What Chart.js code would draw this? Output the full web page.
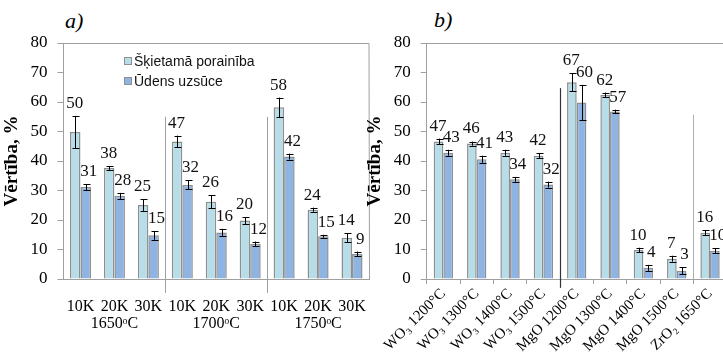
<!DOCTYPE html>
<html>
<head>
<meta charset="utf-8">
<script src="https://cdn.jsdelivr.net/npm/chart.js@4.4.0/dist/chart.umd.min.js"></script>
<style>
  html, body { margin: 0; padding: 0; background: #fff; overflow: hidden; }
  body { width: 723px; height: 361px; position: relative; }
  .panel { position: absolute; top: 0; }
  .tag { position: absolute; font: italic 22px "Liberation Serif", "Times New Roman", serif; color: #000; }
</style>
</head>
<body>
<div class="tag" style="left:65px; top:8px;">a)</div>
<div class="tag" style="left:434px; top:7px;">b)</div>
<div class="panel" style="left:0px;"><canvas id="chartA" width="380" height="361"></canvas></div>
<div class="panel" style="left:360px;"><canvas id="chartB" width="370" height="361"></canvas></div>
<script>
// panel a)
const catsA = ['10K', '20K', '30K', '10K', '20K', '30K', '10K', '20K', '30K'];
const groupsA = ['', '1650ᵒC', '', '', '1700ᵒC', '', '', '1750ᵒC', ''];
const porA = [49.8, 37.6, 25.1, 46.6, 26.2, 19.8, 58.2, 23.5, 14.0];
const porErrA = [5.5, 0.6, 2.0, 2.0, 2.3, 1.2, 3.3, 0.7, 1.5];
const absA = [31.2, 28.2, 14.8, 31.9, 15.8, 11.9, 41.5, 14.5, 8.5];
const absErrA = [1.0, 1.0, 1.5, 1.5, 1.2, 0.8, 1.0, 0.5, 0.8];

// panel b)
const catsB = ['WO₃ 1200°C', 'WO₃ 1300°C', 'WO₃ 1400°C', 'WO₃ 1500°C', 'MgO 1200°C',
               'MgO 1300°C', 'MgO 1400°C', 'MgO 1500°C', 'ZrO₂ 1650°C'];
const porB = [46.6, 45.9, 42.8, 41.8, 66.7, 62.4, 9.8, 6.9, 15.7];
const porErrB = [1.0, 0.7, 1.0, 0.8, 3.0, 0.8, 0.8, 1.0, 0.8];
const absB = [42.8, 40.6, 33.8, 32.0, 59.8, 56.8, 3.8, 2.8, 9.6];
const absErrB = [1.0, 1.2, 0.8, 1.0, 6.0, 0.6, 1.0, 1.2, 0.8];

const yTicks = [0, 10, 20, 30, 40, 50, 60, 70, 80];
const seriesNames = ['Šķietamā porainība', 'Ūdens uzsūce'];

const SERIF = '"Liberation Serif", "Times New Roman", serif';
const lightFill = '#b7dee8';
const darkFill = '#8db4e2';
const barEdge = '#8f8f8f';
const axisGrey = '#a0a0a0';

// two-line labels: sample + temperature under the middle one of each group
const labelsA = catsA.map((c, i) => groupsA[i] ? [c, groupsA[i]] : c);

const extras = {
    id: 'extras',
    afterDatasetsDraw(chart, args, opts){
        const {ctx, chartArea: a} = chart;
        const x = chart.scales.x, y = chart.scales.y;
        ctx.save();

        // plot area frame
        ctx.strokeStyle = axisGrey;
        ctx.lineWidth = 1;
        ctx.beginPath();
        ctx.moveTo(a.left, Math.round(a.top) + 0.5);
        ctx.lineTo(a.right, Math.round(a.top) + 0.5);
        if(opts.rightBorder){
            ctx.lineTo(Math.round(a.right) + 0.5, a.bottom);
        }
        ctx.stroke();

        // group separators
        (opts.seps || []).forEach(s => {
            const px = Math.round((x.getPixelForValue(s.after) + x.getPixelForValue(s.after + 1)) / 2) + 0.5;
            ctx.strokeStyle = s.color;
            ctx.lineWidth = s.width || 1;
            ctx.beginPath();
            ctx.moveTo(px, y.getPixelForValue(s.top));
            ctx.lineTo(px, y.getPixelForValue(s.bottom));
            ctx.stroke();
        });

        // error bars and value labels
        ctx.font = '17px ' + SERIF;
        ctx.textAlign = 'center';
        ctx.textBaseline = 'middle';
        chart.data.datasets.forEach((ds, di) => {
            const meta = chart.getDatasetMeta(di);
            const dx = di === 0 ? -0.5 : 3;
            meta.data.forEach((bar, i) => {
                const v = ds.data[i], e = ds.errors[i];
                const yt = y.getPixelForValue(v + e);
                const yb = y.getPixelForValue(v - e);
                const bx = Math.round(bar.x) + 0.5;
                ctx.strokeStyle = '#000';
                ctx.lineWidth = 1;
                ctx.beginPath();
                ctx.moveTo(bx, yt); ctx.lineTo(bx, yb);
                ctx.moveTo(bx - 3, Math.round(yt) + 0.5); ctx.lineTo(bx + 4, Math.round(yt) + 0.5);
                ctx.moveTo(bx - 3, Math.round(yb) + 0.5); ctx.lineTo(bx + 4, Math.round(yb) + 0.5);
                ctx.stroke();
                ctx.fillStyle = '#111';
                ctx.fillText(String(Math.round(v)), bar.x + dx, yt - 12.5);
            });
        });

        // legend inside the plot
        if(opts.legend){
            ctx.font = '14px "Liberation Sans", Arial, sans-serif';
            ctx.textAlign = 'left';
            chart.data.datasets.forEach((ds, di) => {
                const ly = opts.legend.y + di * 20;
                ctx.fillStyle = ds.backgroundColor;
                ctx.fillRect(opts.legend.x, ly - 3.5, 7, 7);
                ctx.strokeStyle = barEdge;
                ctx.strokeRect(opts.legend.x + 0.5, ly - 3.5, 7, 7);
                ctx.fillStyle = '#111';
                ctx.fillText(ds.label, opts.legend.x + 10, ly + 1);
            });
        }
        ctx.restore();
    }
};

function yScale(titlePad, width){
    return {
        min: 0, max: 80,
        afterBuildTicks: s => { s.ticks = yTicks.map(v => ({value: v})); },
        afterFit: s => { s.width = width; },
        ticks: {font: {family: SERIF, size: 17}, color: '#000', padding: 10},
        grid: {drawOnChartArea: false, drawTicks: true, tickLength: 6, color: axisGrey},
        border: {color: axisGrey},
        title: {
            display: true, text: 'Vērtība, %', color: '#000',
            font: {family: SERIF, size: 19, weight: 'bold'},
            padding: {top: titlePad, bottom: 0}
        }
    };
}

function bars(por, porErr, abs, absErr, pct){
    return [
        {label: seriesNames[0], data: por, errors: porErr, backgroundColor: lightFill,
         borderColor: barEdge, borderWidth: 1.5, categoryPercentage: pct, barPercentage: 1},
        {label: seriesNames[1], data: abs, errors: absErr, backgroundColor: darkFill,
         borderColor: barEdge, borderWidth: 1.5, categoryPercentage: pct, barPercentage: 1}
    ];
}

new Chart(document.getElementById('chartA'), {
    type: 'bar',
    data: {labels: labelsA, datasets: bars(porA, porErrA, absA, absErrA, 0.62)},
    options: {
        responsive: false,
        animation: false,
        layout: {padding: {top: 43, right: 11, left: 0, bottom: 0}},
        plugins: {
            legend: {display: false},
            tooltip: {enabled: false},
            extras: {
                rightBorder: true,
                legend: {x: 124, y: 61},
                seps: [
                    {after: 2, top: 55, bottom: -4.7, color: axisGrey},
                    {after: 5, top: 55, bottom: -4.7, color: axisGrey}
                ]
            }
        },
        scales: {
            x: {
                afterFit: s => { s.height = 82; },
                ticks: {font: {family: SERIF, size: 16, lineHeight: 1.06}, color: '#000', padding: 11, maxRotation: 0, autoSkip: false},
                grid: {display: false},
                border: {color: axisGrey}
            },
            y: yScale(1, 63.5)
        }
    },
    plugins: [extras]
});

new Chart(document.getElementById('chartB'), {
    type: 'bar',
    data: {labels: catsB, datasets: bars(porB, porErrB, absB, absErrB, 0.58)},
    options: {
        responsive: false,
        animation: false,
        layout: {padding: {top: 43, right: 3.3, left: 0, bottom: 0}},
        plugins: {
            legend: {display: false},
            tooltip: {enabled: false},
            extras: {
                rightBorder: false,
                seps: [
                    {after: 3, top: 64.7, bottom: -3, color: '#333', width: 1.2},
                    {after: 7, top: 55.6, bottom: 0, color: '#b0b0b0'}
                ]
            }
        },
        scales: {
            x: {
                afterFit: s => { s.height = 82; },
                ticks: {font: {family: SERIF, size: 15}, color: '#000', padding: 1, minRotation: 45, maxRotation: 45, autoSkip: false},
                grid: {drawOnChartArea: false, drawTicks: true, tickLength: 5, color: axisGrey},
                border: {color: axisGrey}
            },
            y: yScale(4, 66.7)
        }
    },
    plugins: [extras]
});
</script>
</body>
</html>
